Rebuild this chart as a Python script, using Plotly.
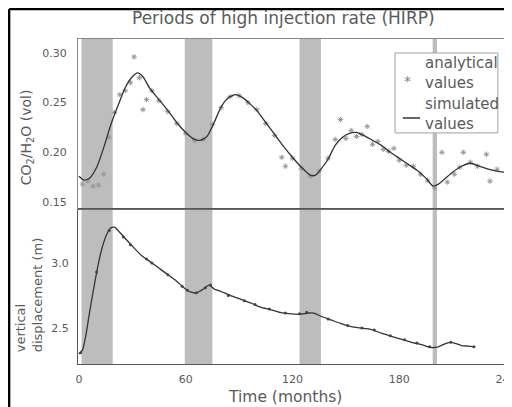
import plotly.graph_objects as go

# ---------------- data ----------------
sim_up_t = [0, 3, 6, 10, 14, 18, 22, 26, 30, 33, 36, 40, 45, 50, 55, 60, 65, 68, 72, 76,
            80, 84, 88, 92, 96, 100, 105, 110, 115, 120, 125, 130, 133, 136, 140, 144,
            148, 152, 156, 160, 165, 170, 175, 180, 185, 190, 195, 199, 202, 206, 210,
            215, 220, 225, 230, 235, 239]
sim_up_v = [0.176, 0.172, 0.174, 0.185, 0.205, 0.228, 0.247, 0.265, 0.276, 0.280, 0.276,
            0.264, 0.253, 0.242, 0.230, 0.220, 0.213, 0.212, 0.216, 0.230, 0.246, 0.255,
            0.258, 0.255, 0.249, 0.242, 0.230, 0.218, 0.206, 0.195, 0.185, 0.177, 0.177,
            0.183, 0.193, 0.207, 0.215, 0.219, 0.220, 0.217, 0.212, 0.207, 0.200, 0.194,
            0.188, 0.182, 0.174, 0.166, 0.168, 0.174, 0.180, 0.186, 0.189, 0.186, 0.183,
            0.181, 0.180]

ana_up_t = [2, 5, 8, 11, 14, 17, 20, 23, 26, 29, 31, 34, 36, 38, 41, 45, 50, 55, 60, 65,
            70, 75, 80, 85, 90, 95, 100, 105, 110, 114, 116, 120, 125, 130, 135, 140, 144,
            147, 150, 153, 156, 159, 162, 165, 168, 171, 174, 177, 180, 184, 188, 192, 196,
            200, 204, 207, 211, 214, 216, 220, 224, 229, 231, 235]
ana_up_v = [0.168, 0.171, 0.166, 0.167, 0.178, 0.215, 0.240, 0.258, 0.262, 0.270, 0.296,
            0.275, 0.243, 0.253, 0.262, 0.252, 0.241, 0.229, 0.219, 0.212, 0.213, 0.228,
            0.245, 0.256, 0.257, 0.250, 0.243, 0.229, 0.217, 0.195, 0.186, 0.194, 0.184,
            0.176, 0.181, 0.194, 0.213, 0.233, 0.214, 0.222, 0.216, 0.218, 0.226, 0.208,
            0.211, 0.203, 0.201, 0.204, 0.192, 0.187, 0.186, 0.178, 0.172, 0.164, 0.200,
            0.170, 0.178, 0.185, 0.200, 0.190, 0.186, 0.198, 0.171, 0.183]

sim_lo_t = [0, 2, 4, 6, 8, 10, 12, 14, 16, 18, 20, 22, 26, 30, 35, 40, 44, 49, 54, 59,
            63, 66, 70, 73, 76, 80, 85, 91, 97, 102, 108, 113, 118, 124, 129, 132, 136,
            142, 147, 153, 158, 164, 170, 177, 182, 187, 193, 198, 202, 206, 209, 212,
            215, 219, 222]
sim_lo_v = [2.30, 2.33, 2.45, 2.62, 2.78, 2.93, 3.06, 3.16, 3.23, 3.27, 3.275, 3.25, 3.19,
            3.13, 3.06, 3.01, 2.97, 2.92, 2.87, 2.81, 2.775, 2.77, 2.80, 2.83, 2.80, 2.78,
            2.75, 2.72, 2.69, 2.66, 2.64, 2.62, 2.61, 2.605, 2.615, 2.615, 2.59, 2.56,
            2.535, 2.51, 2.50, 2.49, 2.46, 2.43, 2.41, 2.39, 2.37, 2.35, 2.355, 2.38,
            2.39, 2.38, 2.365, 2.36, 2.355]

ana_lo_t = [1, 10, 17, 25, 29, 38, 41, 50, 58, 61, 66, 71, 74, 84, 93, 99, 107, 116, 124,
            128, 140, 151, 159, 166, 175, 183, 190, 197, 209, 222]
ana_lo_v = [2.31, 2.93, 3.25, 3.20, 3.14, 3.03, 3.00, 2.91, 2.82, 2.79, 2.77, 2.81, 2.83,
            2.75, 2.71, 2.68, 2.645, 2.615, 2.61, 2.62, 2.57, 2.52, 2.50, 2.485, 2.44,
            2.41, 2.385, 2.355, 2.39, 2.355]

hirp_start = [1.5, 59.5, 124, 198.8]
hirp_end = [19, 75, 136, 201.2]

x_ticks = [0, 60, 120, 180, 240]

# ---------------- figure ----------------
fig = go.Figure()

LINE = "#333333"
AX = "#555555"
TXT = "#5a5a5a"
FONT = "DejaVu Sans"

fig.add_trace(go.Scatter(x=ana_up_t, y=ana_up_v, mode="markers", showlegend=False,
                         marker=dict(symbol="asterisk-open", size=4.5, color="#999999",
                                     line=dict(width=1, color="#999999")),
                         xaxis="x2", yaxis="y2"))
fig.add_trace(go.Scatter(x=sim_up_t, y=sim_up_v, mode="lines", showlegend=False,
                         line=dict(color=LINE, width=1.3, shape="spline", smoothing=0.6),
                         xaxis="x2", yaxis="y2"))
fig.add_trace(go.Scatter(x=sim_lo_t, y=sim_lo_v, mode="lines", showlegend=False,
                         line=dict(color=LINE, width=1.3, shape="spline", smoothing=0.6),
                         xaxis="x", yaxis="y"))
fig.add_trace(go.Scatter(x=ana_lo_t, y=ana_lo_v, mode="markers", showlegend=False,
                         marker=dict(symbol="circle", size=3, color="#444444"),
                         xaxis="x", yaxis="y"))

shapes = []
for s, e in zip(hirp_start, hirp_end):
    shapes.append(dict(type="rect", xref="x", yref="paper", x0=s, x1=e, y0=0, y1=1,
                       fillcolor="#bdbdbd", line=dict(width=0), layer="below"))
# scan frame (left and top black border)
shapes.append(dict(type="line", xref="paper", yref="paper", x0=-0.161, x1=-0.161,
                   y0=-0.2, y1=1.092, line=dict(color="black", width=2.5)))
shapes.append(dict(type="line", xref="paper", yref="paper", x0=-0.161, x1=1.05,
                   y0=1.092, y1=1.092, line=dict(color="black", width=2.5)))
# divider between panels
shapes.append(dict(type="line", xref="paper", yref="paper", x0=0, x1=1,
                   y0=0.477, y1=0.477, line=dict(color=AX, width=1.2)))
# legend box and line key
shapes.append(dict(type="rect", xref="paper", yref="paper", x0=0.7407, x1=0.981,
                   y0=0.711, y1=0.957, fillcolor="white",
                   line=dict(color="#a0a0a0", width=1)))
shapes.append(dict(type="line", xref="paper", yref="paper", x0=0.759, x1=0.799,
                   y0=0.757, y1=0.757, line=dict(color=LINE, width=1.5)))

tickfont = dict(family=FONT, size=11, color=TXT)

annotations = [
    dict(text="Periods of high injection rate (HIRP)", xref="paper", yref="paper",
         x=0.48, y=1.065, showarrow=False, xanchor="center", yanchor="middle",
         font=dict(family=FONT, size=17, color=TXT)),
    dict(text="CO<sub>2</sub>/H<sub>2</sub>O (vol)", xref="paper", yref="paper",
         x=-0.119, y=0.698, textangle=-90, showarrow=False, xanchor="center",
         yanchor="middle", font=dict(family=FONT, size=14, color=TXT)),
    dict(text="vertical<br>displacement (m)", xref="paper", yref="paper",
         x=-0.114, y=0.212, textangle=-90, showarrow=False, xanchor="center",
         yanchor="middle", align="left", font=dict(family=FONT, size=13, color=TXT)),
    dict(text="Time (months)", xref="paper", yref="paper", x=0.484, y=-0.1015,
         showarrow=False, xanchor="center", yanchor="middle",
         font=dict(family=FONT, size=15.5, color=TXT)),
    # legend texts
    dict(text="analytical<br>values", xref="paper", yref="paper", x=0.806, y=0.895,
         showarrow=False, xanchor="left", yanchor="middle", align="left",
         font=dict(family=FONT, size=15, color=TXT)),
    dict(text="simulated<br>values", xref="paper", yref="paper", x=0.806, y=0.769,
         showarrow=False, xanchor="left", yanchor="middle", align="left",
         font=dict(family=FONT, size=15, color=TXT)),
    dict(text="*", xref="paper", yref="paper", x=0.771, y=0.872,
         showarrow=False, xanchor="center", yanchor="middle",
         font=dict(family=FONT, size=14, color="#808080")),
]

fig.update_layout(
    width=504, height=399,
    margin=dict(l=70, r=6, t=31, b=43, autoexpand=False),
    paper_bgcolor="white", plot_bgcolor="white",
    font=dict(family=FONT, color=TXT),
    shapes=shapes,
    annotations=annotations,
    showlegend=False,
    xaxis=dict(range=[-0.5, 240.0], tickvals=x_ticks, ticktext=[str(v) for v in x_ticks],
               showgrid=False, zeroline=False, showline=True, linecolor=AX, mirror=True,
               tickfont=tickfont, ticks="", anchor="y", automargin=False,
               ticklabelstandoff=5, ticklabeloverflow="allow"),
    xaxis2=dict(range=[-0.5, 240.0], matches="x", showticklabels=False, showgrid=False,
                zeroline=False, showline=True, linecolor="#888888", mirror=True, ticks="",
                anchor="y2", automargin=False),
    yaxis=dict(domain=[0, 0.477], range=[2.223, 3.415], tickvals=[2.5, 3.0],
               ticktext=["2.5", "3.0"], showgrid=False, zeroline=False, showline=True,
               linecolor=AX, mirror=True, tickfont=tickfont, ticks="", automargin=False,
               ticklabelstandoff=6),
    yaxis2=dict(domain=[0.477, 1], range=[0.143, 0.314], tickvals=[0.15, 0.20, 0.25, 0.30],
                ticktext=["0.15", "0.20", "0.25", "0.30"], showgrid=False, zeroline=False,
                showline=True, linecolor="#888888", mirror=True, tickfont=tickfont, ticks="",
                automargin=False, ticklabelstandoff=8),
)

fig.write_html("out.html")
